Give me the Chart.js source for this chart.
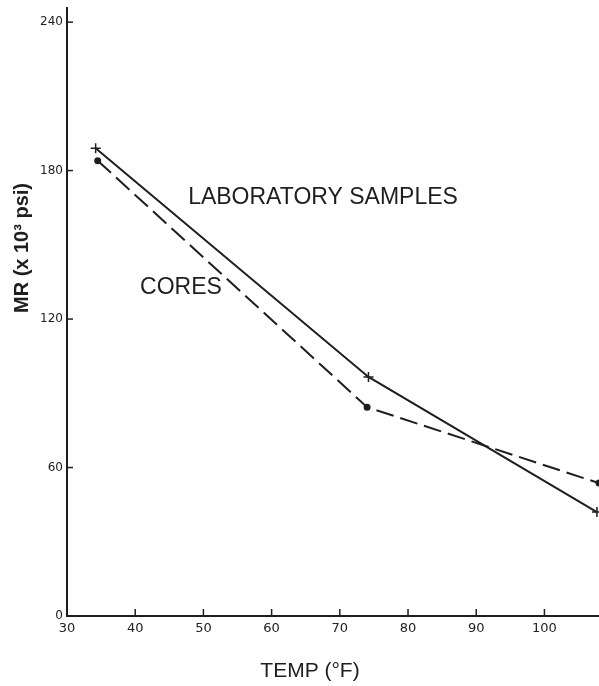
<!DOCTYPE html>
<html>
<head>
<meta charset="utf-8">
<script src="https://cdn.jsdelivr.net/npm/chart.js@4"></script>
<style>
  html, body { margin: 0; padding: 0; background: #fff; }
  #wrap { width: 599px; height: 686px; position: relative; }
</style>
</head>
<body>
<div id="wrap"><canvas id="chart"></canvas></div>
<script>
const xTicks = [30, 40, 50, 60, 70, 80, 90, 100];
const yTicks = [0, 60, 120, 180, 240];

const labTemps = [34.2, 74.2, 107.7];
const labMR = [189, 96.6, 42];

const coreTemps = [34.5, 74, 108];
const coreMR = [184, 84.4, 53.7];

const ink = "#1e1e1e";

const toPoints = (xs, ys) => xs.map((x, i) => ({ x, y: ys[i] }));

// inward tick marks and free text labels
const decorations = {
  id: "decorations",
  afterDraw(chart) {
    const { ctx, scales } = chart;
    const x = scales.x;
    const y = scales.y;
    ctx.save();
    ctx.strokeStyle = ink;
    ctx.lineWidth = 1.5;
    xTicks.forEach((v) => {
      const px = x.getPixelForValue(v);
      ctx.beginPath();
      ctx.moveTo(px, y.bottom);
      ctx.lineTo(px, y.bottom - 7);
      ctx.stroke();
    });
    yTicks.forEach((v) => {
      const py = y.getPixelForValue(v);
      ctx.beginPath();
      ctx.moveTo(x.left, py);
      ctx.lineTo(x.left + 6, py);
      ctx.stroke();
    });

    ctx.fillStyle = ink;
    ctx.textAlign = "center";
    ctx.textBaseline = "middle";
    ctx.font = '23px "Liberation Sans", Arial, sans-serif';
    ctx.fillText("LABORATORY SAMPLES", 323, 198);
    ctx.fillText("CORES", 181, 288);

    ctx.font = '21px "Liberation Sans", Arial, sans-serif';
    ctx.fillText("TEMP (°F)", 310, 671);

    ctx.translate(22, 248);
    ctx.rotate(-Math.PI / 2);
    ctx.font = 'bold 20px "Liberation Sans", Arial, sans-serif';
    ctx.fillText("MR (x 10³ psi)", 0, 0);
    ctx.restore();
  }
};

new Chart(document.getElementById("chart"), {
  type: "scatter",
  data: {
    datasets: [
      {
        label: "LABORATORY SAMPLES",
        data: toPoints(labTemps, labMR),
        showLine: true,
        borderColor: ink,
        borderWidth: 2,
        pointStyle: "cross",
        pointRadius: 5,
        pointBorderWidth: 1.5,
        pointBorderColor: ink,
        tension: 0
      },
      {
        label: "CORES",
        data: toPoints(coreTemps, coreMR),
        showLine: true,
        borderColor: ink,
        borderWidth: 2,
        borderDash: [18, 7],
        pointStyle: "circle",
        pointRadius: 2.5,
        pointBackgroundColor: ink,
        pointBorderColor: ink,
        tension: 0
      }
    ]
  },
  options: {
    responsive: true,
    maintainAspectRatio: false,
    animation: false,
    layout: { autoPadding: false, padding: { top: 8, right: 0, left: 0, bottom: 0 } },
    plugins: {
      legend: { display: false },
      tooltip: { enabled: false }
    },
    scales: {
      x: {
        type: "linear",
        min: 30,
        max: 108,
        afterBuildTicks(scale) {
          scale.ticks = xTicks.map((value) => ({ value }));
        },
        afterFit(scale) {
          scale.height = 70;
          scale.paddingLeft = 0;
          scale.paddingRight = 0;
        },
        grid: { display: false, drawTicks: false },
        border: { display: true, color: ink, width: 2 },
        ticks: {
          color: "#222",
          padding: 5,
          maxRotation: 0,
          autoSkip: false,
          font: { family: '"DejaVu Sans", sans-serif', size: 13 }
        }
      },
      y: {
        type: "linear",
        min: 0,
        max: 245.7,
        afterBuildTicks(scale) {
          scale.ticks = yTicks.map((value) => ({ value }));
        },
        afterFit(scale) {
          scale.width = 67;
          scale.paddingTop = 0;
          scale.paddingBottom = 0;
        },
        grid: { display: false, drawTicks: false },
        border: { display: true, color: ink, width: 2 },
        ticks: {
          color: "#222",
          padding: 4,
          autoSkip: false,
          font: { family: '"DejaVu Sans", sans-serif', size: 12 }
        }
      }
    }
  },
  plugins: [decorations]
});
</script>
</body>
</html>
